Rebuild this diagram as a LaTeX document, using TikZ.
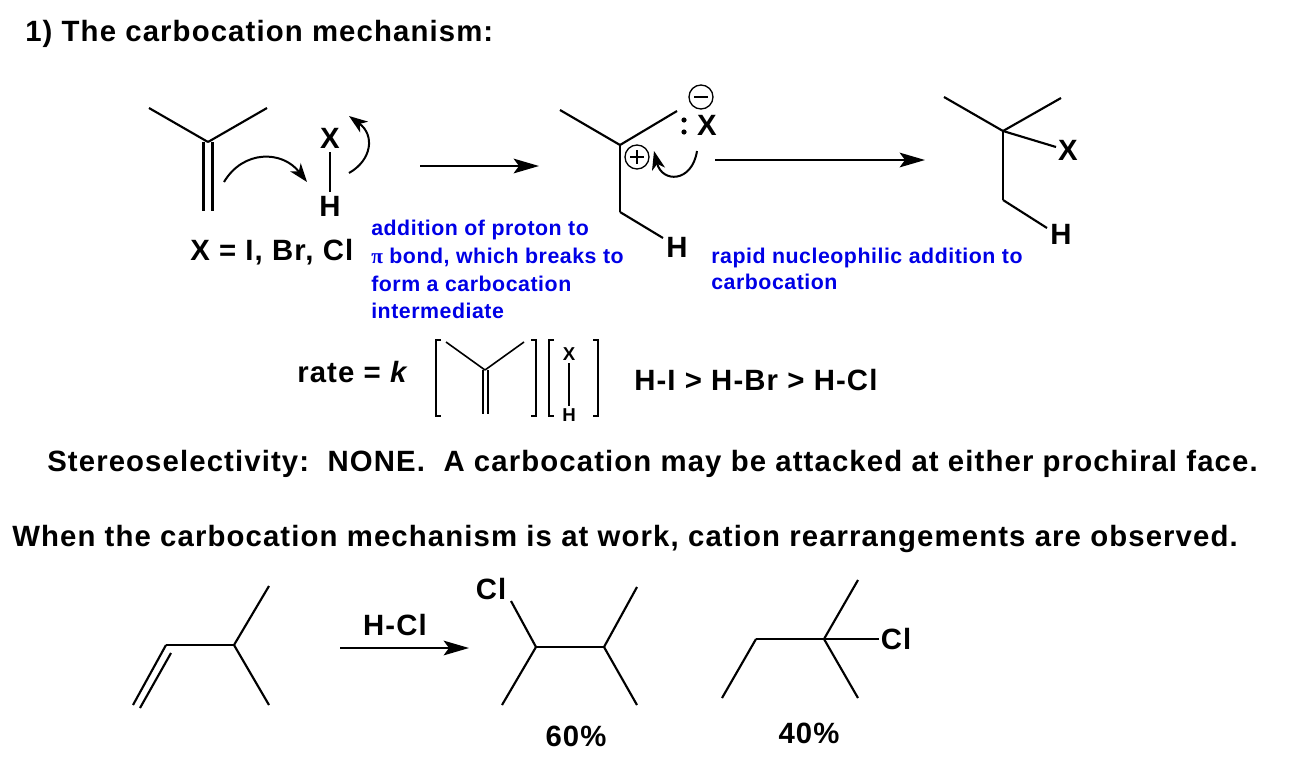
\documentclass[tikz,border=0pt]{standalone}
\usepackage{fontspec}
\setmainfont{Liberation Sans}
\newfontfamily\pifont{Liberation Serif}
\newfontfamily\widefont[LetterSpace=3.8]{Liberation Sans}
\newfontfamily\notefont[LetterSpace=2.5]{Liberation Sans}
\usetikzlibrary{arrows.meta}
\definecolor{noteblue}{RGB}{0,0,230}
\tikzset{
  bondline/.style={line width=1.6pt},
  thinbond/.style={line width=1.2pt},
  curvearrow/.style={line width=1.5pt,-{Stealth[length=14pt,width=10pt,inset=4pt]}},
  rxnarrow/.style={line width=1.6pt,-{Stealth[length=19pt,width=11pt,inset=4pt]}},
  bigtext/.style={font=\widefont\bfseries\fontsize{22}{26}\selectfont,inner sep=0pt,anchor=west},
  atomtext/.style={font=\widefont\bfseries\fontsize{22}{26}\selectfont,inner sep=0pt},
  smallatom/.style={font=\bfseries\fontsize{14}{17}\selectfont,inner sep=0pt},
  bluetext/.style={font=\notefont\bfseries\fontsize{16}{20.8}\selectfont,text=noteblue,inner sep=0pt,anchor=north west,align=left},
  chargering/.style={circle,draw,line width=1pt,inner sep=0pt,minimum size=18pt},
}
\newcommand{\atompt}[3]{\coordinate (#1) at (#2,#3);}
\newcommand{\bond}[2]{\draw[bondline] (#1) -- (#2);}
\newcommand{\thinb}[2]{\draw[thinbond] (#1) -- (#2);}
\begin{document}
\begin{tikzpicture}[x=0.75pt,y=-0.75pt]
\useasboundingbox (0,0) rectangle (1302,758);
% headings
\node[bigtext] (title) at (25,34) {1) The carbocation mechanism:};
\node[bigtext] (stereo) at (47,464) {Stereoselectivity:\ \ NONE.\ \ A carbocation may be attacked at either prochiral face.};
\node[bigtext] (when) at (12,539) {When the carbocation mechanism is at work, cation rearrangements are observed.};
% alkene + HX
\atompt{a1}{149}{108} \atompt{a2}{208}{142} \atompt{a3}{267}{108}
\atompt{a4}{203.5}{142} \atompt{a5}{203.5}{211} \atompt{a6}{212.5}{142} \atompt{a7}{212.5}{211}
\bond{a1}{a2} \bond{a3}{a2} \bond{a4}{a5} \bond{a6}{a7}
\node[atomtext] (xa) at (330,138) {X};
\node[atomtext] (ha) at (330,206) {H};
\draw[bondline,shorten >=3pt,shorten <=3pt] (xa) -- (ha);
\atompt{c1}{224}{182} \atompt{c2}{307}{182}
\draw[curvearrow] (c1) .. controls (243,150) and (282,150) .. (c2);
\atompt{c3}{349}{173} \atompt{c4}{349}{116}
\draw[curvearrow] (c3) .. controls (372,160) and (375,135) .. (c4);
\node[atomtext,anchor=west] (xlist) at (190,252) {X = I, Br, Cl};
\node[bluetext] (note1) at (371,220) {addition of proton to\\{\pifont π} bond, which breaks to\\form a carbocation\\intermediate};
\atompt{r1}{420}{166} \atompt{r2}{539}{166}
\draw[rxnarrow] (r1) -- (r2);
% carbocation
\atompt{b1}{560}{110} \atompt{b2}{620}{145} \atompt{b3}{677}{111} \atompt{b4}{620}{212} \atompt{b5}{663}{238}
\bond{b1}{b2} \bond{b3}{b2} \bond{b2}{b4} \bond{b4}{b5}
\node[atomtext] (hb) at (677,247) {H};
\node[chargering] (plus) at (637,157) {};
\draw[line width=1pt] (630,157) -- (644,157) (637,150) -- (637,164);
\node[chargering] (minus) at (701,97) {};
\draw[line width=1pt] (694,97) -- (708,97);
\node[atomtext] (xb) at (707,125) {X};
\fill (684,120) circle (2.6) (684,132) circle (2.6);
\atompt{c5}{697}{151} \atompt{c6}{654}{151}
\draw[curvearrow] (c5) .. controls (692,183) and (662,183) .. (c6);
\atompt{r3}{715}{160} \atompt{r4}{925}{160}
\draw[rxnarrow] (r3) -- (r4);
\node[bluetext] (note2) at (711,248) {rapid nucleophilic addition to\\[-1.5pt]carbocation};
% product
\atompt{p1}{944}{97} \atompt{p2}{1003}{131} \atompt{p3}{1061}{98} \atompt{p4}{1003}{200} \atompt{p5}{1047}{228} \atompt{p6}{1056}{147}
\bond{p1}{p2} \bond{p3}{p2} \bond{p2}{p4} \bond{p4}{p5} \bond{p2}{p6}
\node[atomtext] (xc) at (1068,150) {X};
\node[atomtext] (hc) at (1061,234) {H};
% rate law
\node[bigtext] (rate) at (297,372) {rate = \textit{k}};
\draw[thinbond] (441,340) -- (436,340) -- (436,416) -- (441,416);
\draw[thinbond] (531,340) -- (536,340) -- (536,416) -- (531,416);
\draw[thinbond] (554,340) -- (549,340) -- (549,416) -- (554,416);
\draw[thinbond] (593,340) -- (598,340) -- (598,416) -- (593,416);
\atompt{q1}{446}{342} \atompt{q2}{485}{370} \atompt{q3}{524}{342}
\atompt{q4}{483}{370} \atompt{q5}{483}{414} \atompt{q6}{488}{370} \atompt{q7}{488}{414}
\thinb{q1}{q2} \thinb{q3}{q2} \thinb{q4}{q5} \thinb{q6}{q7}
\node[smallatom] (xd) at (569,354) {X};
\node[smallatom] (hd) at (569,415) {H};
\draw[line width=0.8pt,shorten >=2pt,shorten <=2pt] (xd) -- (hd);
\node[bigtext] (order) at (634,380) {H-I > H-Br > H-Cl};
% rearrangement example
\atompt{e1}{133}{705} \atompt{e2}{166}{645} \atompt{e3}{234}{645} \atompt{e4}{269}{586} \atompt{e5}{269}{705} \atompt{e6}{140}{708} \atompt{e7}{171}{653}
\bond{e1}{e2} \bond{e2}{e3} \bond{e3}{e4} \bond{e3}{e5} \bond{e6}{e7}
\atompt{r5}{340}{648} \atompt{r6}{469}{648}
\draw[rxnarrow] (r5) -- (r6);
\node[atomtext] (hcl) at (395,625) {H-Cl};
\atompt{f1}{511}{601} \atompt{f2}{536}{647} \atompt{f3}{604}{647} \atompt{f4}{637}{587} \atompt{f5}{637}{705} \atompt{f6}{502}{705}
\bond{f1}{f2} \bond{f2}{f3} \bond{f3}{f4} \bond{f3}{f5} \bond{f2}{f6}
\node[atomtext] (cla) at (491,589) {Cl};
\node[atomtext] (yielda) at (576,736) {60\%};
\atompt{g1}{722}{698} \atompt{g2}{756}{639} \atompt{g3}{824}{639} \atompt{g4}{858}{580} \atompt{g5}{858}{698} \atompt{g6}{879}{639}
\bond{g1}{g2} \bond{g2}{g3} \bond{g3}{g4} \bond{g3}{g5} \bond{g3}{g6}
\node[atomtext] (clb) at (896,639) {Cl};
\node[atomtext] (yieldb) at (809,733) {40\%};
\end{tikzpicture}
\end{document}
